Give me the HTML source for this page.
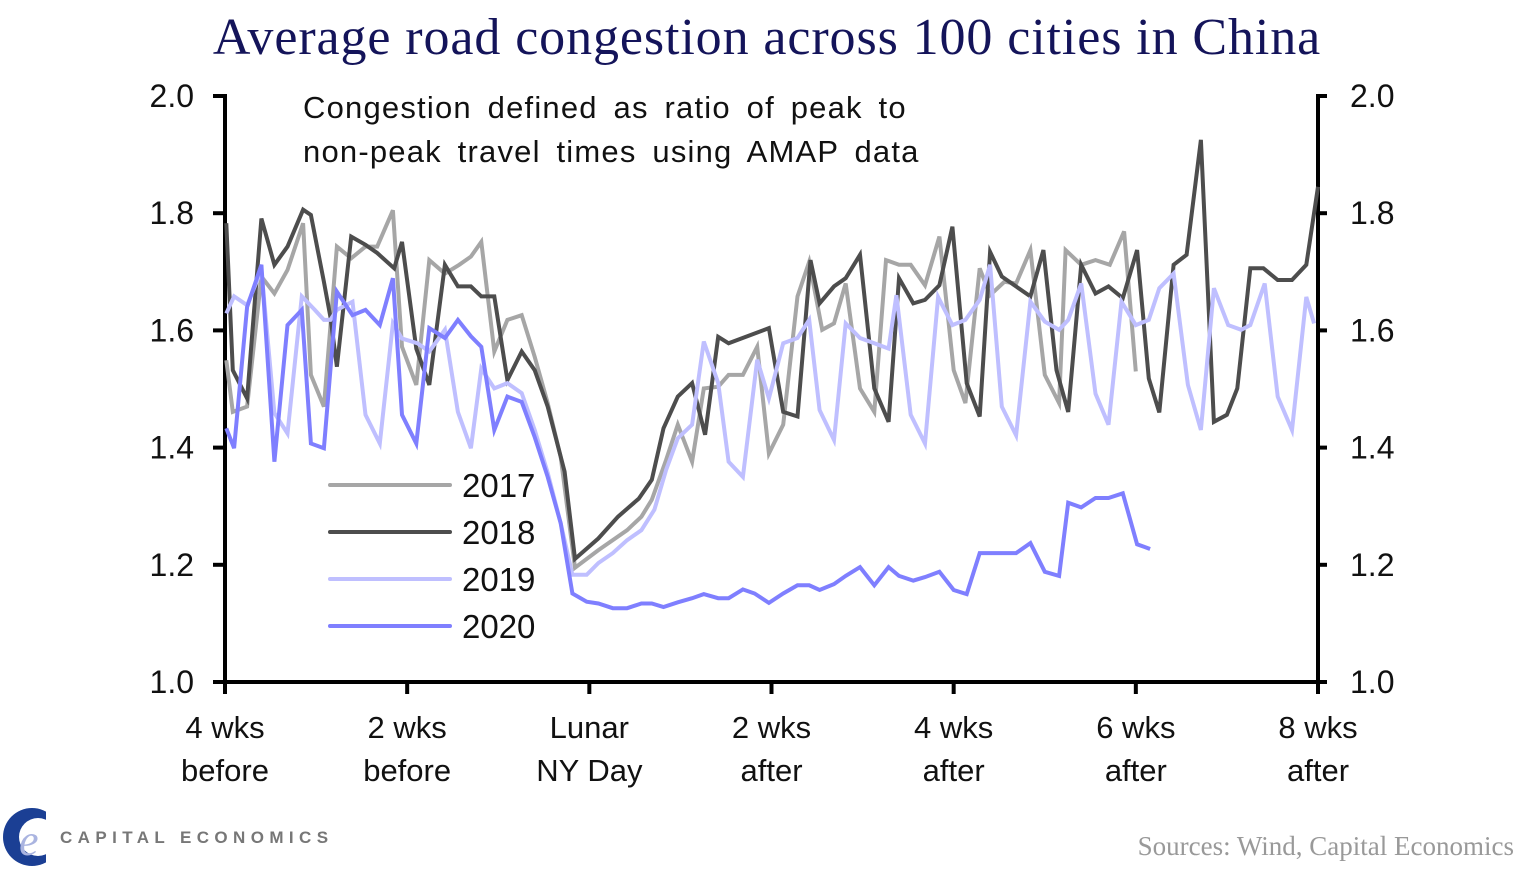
<!DOCTYPE html>
<html><head><meta charset="utf-8"><style>
html,body{margin:0;padding:0;background:#fff;}
svg{display:block;}
text{font-family:"Liberation Sans",sans-serif;}
</style></head><body>
<svg id="chart" width="1535" height="874" viewBox="0 0 1535 874">
<text x="767" y="54" text-anchor="middle" font-size="52" letter-spacing="0.9" fill="#14145a" style="font-family:'Liberation Serif',serif">Average road congestion across 100 cities in China</text>
<text x="303" y="118" font-size="31" letter-spacing="1.2" word-spacing="6" fill="#111">Congestion  defined  as ratio of peak  to</text>
<text x="303" y="162" font-size="31" letter-spacing="1.2" word-spacing="6" fill="#111">non-peak  travel times using  AMAP data</text>
<g id="axes"></g>
<g id="series"></g>
<g id="legend"></g>
<g>
<circle cx="32" cy="837" r="29" fill="#1b3f94"/>
<circle cx="38" cy="837" r="19" fill="#fff"/>
<rect x="46" y="806" width="16" height="62" fill="#fff"/>
<text x="19" y="855" font-size="44" fill="#aab4e0" style="font-family:'Liberation Serif',serif;font-style:italic">e</text>
<text x="60" y="843" font-size="17" font-weight="bold" fill="#777" letter-spacing="5.4">CAPITAL ECONOMICS</text>
</g>
<text x="1514" y="855" text-anchor="end" font-size="27" fill="#999" style="font-family:'Liberation Serif',serif">Sources: Wind, Capital Economics</text>
</svg>
<script>
const yTicks=[1.0,1.2,1.4,1.6,1.8,2.0];
const xTickDays=[-28,-14,0,14,28,42,56];
const xTickLine1=["4 wks","2 wks","Lunar","2 wks","4 wks","6 wks","8 wks"];
const xTickLine2=["before","before","NY Day","after","after","after","after"];
const seriesNames=["2017","2018","2019","2020"];
const seriesColors=["#a6a6a6","#4d4d4d","#bfbfff","#7f7fff"];
const days2017=[-27.6,-27.1,-26.0,-24.9,-23.9,-22.9,-21.7,-21.1,-20.1,-19.1,-18.0,-16.9,-16.0,-14.8,-14.1,-13.0,-12.0,-10.8,-9.7,-8.8,-8.0,-7.0,-6.0,-4.9,-3.9,-2.9,-1.9,-0.8,1.0,3.2,4.3,5.1,6.2,7.1,8.2,9.1,10.2,11.0,12.1,13.2,14.1,15.2,16.3,17.2,18.2,19.1,20.0,21.1,22.2,23.1,24.1,25.0,26.1,27.2,28.3,29.2,30.3,31.1,32.2,33.1,34.2,35.3,36.4,36.9,38.1,39.2,40.3,41.4,42.3];
const vals2017=[1.549,1.461,1.470,1.692,1.663,1.703,1.783,1.524,1.470,1.743,1.723,1.743,1.743,1.805,1.572,1.507,1.720,1.697,1.712,1.726,1.751,1.564,1.618,1.626,1.555,1.476,1.384,1.195,1.225,1.259,1.282,1.311,1.379,1.439,1.376,1.501,1.504,1.524,1.524,1.572,1.390,1.439,1.658,1.717,1.601,1.612,1.680,1.501,1.461,1.720,1.712,1.712,1.677,1.760,1.532,1.476,1.706,1.660,1.683,1.680,1.737,1.524,1.476,1.737,1.712,1.720,1.712,1.769,1.530];
const days2018=[-27.6,-27.1,-26.0,-24.9,-23.9,-22.9,-21.7,-21.1,-20.1,-19.6,-19.1,-18.0,-16.9,-16.0,-14.7,-14.1,-13.0,-12.0,-10.8,-9.8,-8.8,-8.0,-7.0,-6.0,-4.9,-3.9,-2.9,-1.6,-0.8,1.0,2.5,4.1,5.1,6.0,7.1,8.2,9.2,10.2,11.0,14.1,15.2,16.3,17.3,18.0,19.1,20.0,21.1,22.2,23.3,24.1,25.2,26.1,27.2,28.2,29.3,30.3,31.1,32.0,34.2,35.2,36.2,37.1,38.1,39.2,40.2,41.3,42.4,43.3,44.1,45.2,46.2,47.3,48.3,49.3,50.1,51.1,52.1,53.2,54.3,55.4,56.3];
const vals2018=[1.783,1.532,1.484,1.791,1.712,1.743,1.806,1.797,1.683,1.623,1.538,1.760,1.746,1.732,1.706,1.751,1.569,1.507,1.712,1.675,1.675,1.658,1.658,1.515,1.564,1.532,1.470,1.359,1.210,1.245,1.282,1.313,1.345,1.433,1.487,1.510,1.422,1.589,1.578,1.604,1.461,1.453,1.720,1.646,1.675,1.689,1.729,1.501,1.444,1.689,1.646,1.652,1.677,1.777,1.510,1.453,1.734,1.692,1.658,1.737,1.532,1.461,1.712,1.663,1.675,1.655,1.737,1.518,1.460,1.712,1.729,1.925,1.444,1.456,1.501,1.706,1.706,1.686,1.686,1.712,1.845];
const days2019=[-27.6,-27.0,-26.0,-24.9,-23.9,-22.9,-21.8,-20.8,-20.1,-19.6,-19.1,-17.9,-16.9,-15.8,-14.8,-14.1,-12.9,-12.0,-10.8,-9.8,-8.8,-8.0,-7.0,-6.0,-4.9,-3.9,-2.9,-1.9,-1.0,0.1,1.0,2.1,3.2,4.3,5.3,6.2,7.1,8.2,9.1,10.2,11.0,12.1,13.2,14.1,15.2,16.3,17.2,18.0,19.1,20.0,21.1,22.2,23.3,23.9,25.0,26.1,27.1,28.2,29.2,30.3,31.1,32.0,33.1,34.2,35.3,36.4,37.1,38.1,39.2,40.2,41.2,42.3,43.3,44.1,45.2,46.3,47.3,48.3,49.4,50.4,51.1,52.2,53.2,54.3,55.4,56.0];
const vals2019=[1.629,1.658,1.643,1.703,1.459,1.424,1.658,1.635,1.618,1.618,1.635,1.649,1.456,1.407,1.612,1.586,1.578,1.564,1.601,1.461,1.399,1.535,1.501,1.510,1.493,1.430,1.357,1.271,1.183,1.183,1.203,1.220,1.242,1.259,1.294,1.362,1.416,1.439,1.581,1.510,1.376,1.350,1.550,1.484,1.578,1.587,1.618,1.464,1.413,1.612,1.587,1.578,1.569,1.660,1.456,1.407,1.657,1.609,1.618,1.652,1.712,1.470,1.421,1.649,1.615,1.601,1.618,1.680,1.492,1.439,1.649,1.609,1.618,1.672,1.697,1.507,1.430,1.672,1.609,1.601,1.609,1.680,1.487,1.430,1.657,1.612];
const days2020=[-27.6,-27.0,-26.0,-24.9,-23.9,-22.9,-21.8,-21.1,-20.1,-19.1,-17.9,-16.9,-15.8,-14.8,-14.1,-13.0,-12.0,-10.8,-9.8,-8.8,-8.0,-7.0,-6.0,-4.9,-3.9,-2.9,-1.9,-1.0,0.1,1.0,2.1,3.2,4.3,5.1,6.0,7.1,8.2,9.1,10.2,11.0,12.1,13.0,14.1,15.2,16.3,17.2,18.0,19.1,20.0,21.1,22.2,23.3,24.1,25.2,26.1,27.2,28.3,29.3,30.3,32.2,33.1,34.2,35.3,36.4,37.1,38.1,39.2,40.2,41.3,42.4,43.4];
const vals2020=[1.433,1.399,1.640,1.712,1.376,1.609,1.635,1.407,1.399,1.666,1.626,1.635,1.609,1.689,1.456,1.407,1.604,1.587,1.618,1.590,1.572,1.430,1.487,1.478,1.418,1.350,1.271,1.151,1.137,1.134,1.126,1.126,1.134,1.134,1.128,1.136,1.143,1.150,1.143,1.143,1.158,1.151,1.135,1.151,1.165,1.165,1.157,1.167,1.181,1.196,1.165,1.196,1.181,1.173,1.179,1.188,1.157,1.150,1.220,1.220,1.220,1.237,1.188,1.181,1.306,1.298,1.314,1.314,1.322,1.235,1.227];
const allDays=[days2017,days2018,days2019,days2020];
const allVals=[vals2017,vals2018,vals2019,vals2020];

const NS="http://www.w3.org/2000/svg";
const X0=225,X1=1318,Y0=682,Y1=96,DMIN=-28,DMAX=56,VMIN=1.0,VMAX=2.0;
const SHIFT=-0.3;
function xs(d){return X0+(d-DMIN)/(DMAX-DMIN)*(X1-X0);}
function ys(v){return Y0-(v-VMIN)/(VMAX-VMIN)*(Y0-Y1);}
function mk(tag,attrs,parent){const e=document.createElementNS(NS,tag);for(const k in attrs)e.setAttribute(k,attrs[k]);parent.appendChild(e);return e;}
const axes=document.getElementById('axes');
let e;
e=mk('line',{x1:X0,y1:Y1-2,x2:X0,y2:Y0+2,stroke:'#000','stroke-width':4},axes);


e=mk('line',{x1:X1,y1:Y1-2,x2:X1,y2:Y0+2,stroke:'#000','stroke-width':4},axes);


e=mk('line',{x1:X0-2,y1:Y0,x2:X1+2,y2:Y0,stroke:'#000','stroke-width':4},axes);


yTicks.forEach(v=>{
  const y=ys(v);
  e=mk('line',{x1:X0-12,y1:y,x2:X0,y2:y,stroke:'#000','stroke-width':4},axes);
  
  
  e=mk('line',{x1:X1,y1:y,x2:X1+9,y2:y,stroke:'#000','stroke-width':4},axes);
  
  
  e=mk('text',{x:194,y:y+11,'text-anchor':'end','font-size':32,fill:'#111'},axes);
  e.textContent=v.toFixed(1);
  
  
  e=mk('text',{x:1350,y:y+11,'font-size':32,fill:'#111'},axes);
  e.textContent=v.toFixed(1);
  
  
});
xTickDays.forEach((d,i)=>{
  const x=xs(d);
  e=mk('line',{x1:x,y1:Y0,x2:x,y2:Y0+12,stroke:'#000','stroke-width':4},axes);
  
  
  e=mk('text',{x:x,y:738,'text-anchor':'middle','font-size':31,fill:'#111'},axes);
  e.textContent=xTickLine1[i];
  
  
  e=mk('text',{x:x,y:781,'text-anchor':'middle','font-size':31,fill:'#111'},axes);
  e.textContent=xTickLine2[i];
  
  
});
const sg=document.getElementById('series');
allDays.forEach((ds,s)=>{
  const pts=ds.map((d,i)=>xs(d+SHIFT).toFixed(1)+','+ys(allVals[s][i]).toFixed(1)).join(' ');
  e=mk('polyline',{points:pts,fill:'none',stroke:seriesColors[s],'stroke-width':4,'stroke-linejoin':'miter'},sg);
  
  
});
const lg=document.getElementById('legend');
seriesNames.forEach((n,i)=>{
  const y=485+i*47;
  e=mk('line',{x1:330,y1:y,x2:450,y2:y,stroke:seriesColors[i],'stroke-width':4,'stroke-linecap':'round'},lg);
  
  
  e=mk('text',{x:462,y:y+12,'font-size':33,fill:'#111'},lg);
  e.textContent=n;
  
  
});
</script>
</body></html>
